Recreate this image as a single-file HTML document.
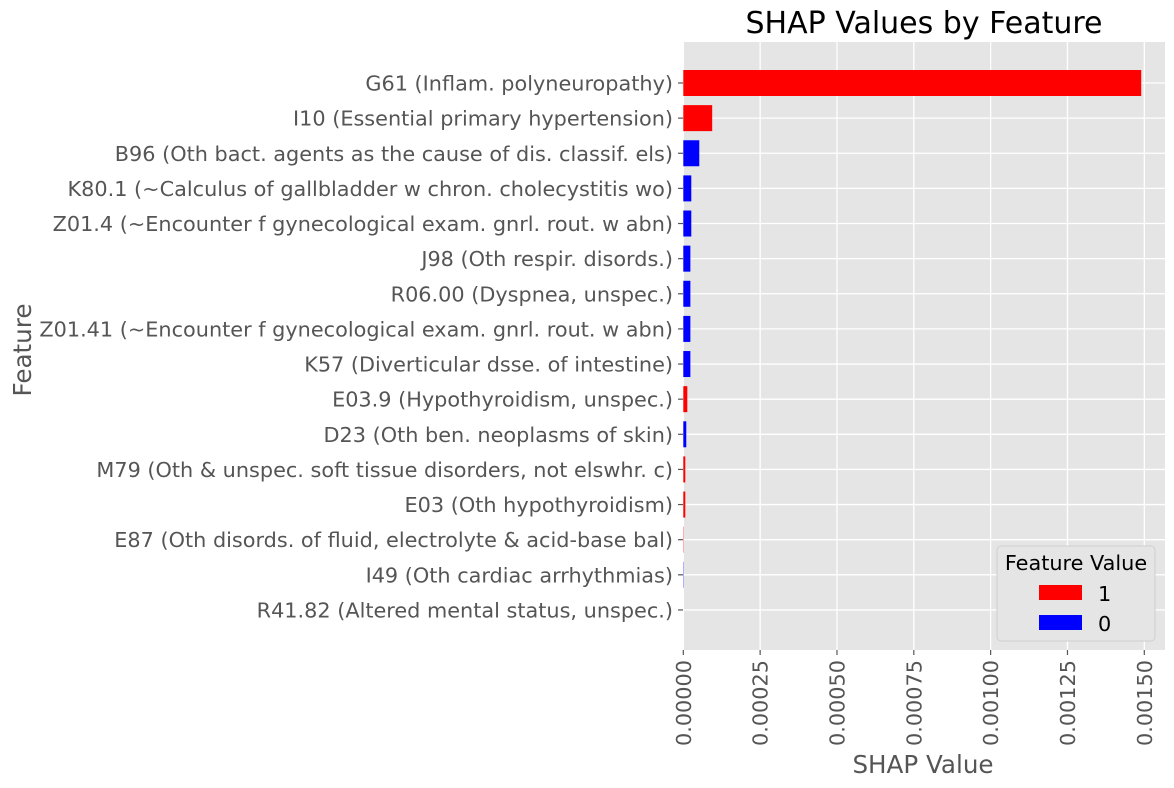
<!DOCTYPE html>
<html><head><meta charset="utf-8"><style>
body{margin:0;background:#fff;}
svg{display:block;font-family:"DejaVu Sans","Liberation Sans",sans-serif;}
</style></head><body>
<svg id="chart" width="1174" height="788">
<rect x="683" y="42" width="482" height="608" fill="#e5e5e5"/>
<g id="grid"></g><g id="bars"></g><g id="ylabels"></g><g id="xlabels"></g>
<text x="924" y="33" font-size="30" text-anchor="middle" fill="#000">SHAP Values by Feature</text>
<text x="923" y="773" font-size="24.6" text-anchor="middle" fill="#555">SHAP Value</text>
<text transform="translate(31,350) rotate(-90)" font-size="24.6" text-anchor="middle" fill="#555">Feature</text>
<g>
<rect x="997" y="546" width="158" height="95" rx="4" fill="#e5e5e5" stroke="#d0d0d0"/>
<text x="1076" y="570" font-size="20.8" text-anchor="middle" fill="#000">Feature Value</text>
<rect x="1039" y="585" width="43" height="15" fill="#ff0000"/>
<text x="1098" y="601" font-size="20.8" fill="#000">1</text>
<rect x="1039" y="615" width="43" height="15" fill="#0000ff"/>
<text x="1098" y="631" font-size="20.8" fill="#000">0</text>
</g>
</svg>
<script>
const features=["G61 (Inflam. polyneuropathy)","I10 (Essential primary hypertension)","B96 (Oth bact. agents as the cause of dis. classif. els)","K80.1 (~Calculus of gallbladder w chron. cholecystitis wo)","Z01.4 (~Encounter f gynecological exam. gnrl. rout. w abn)","J98 (Oth respir. disords.)","R06.00 (Dyspnea, unspec.)","Z01.41 (~Encounter f gynecological exam. gnrl. rout. w abn)","K57 (Diverticular dsse. of intestine)","E03.9 (Hypothyroidism, unspec.)","D23 (Oth ben. neoplasms of skin)","M79 (Oth & unspec. soft tissue disorders, not elswhr. c)","E03 (Oth hypothyroidism)","E87 (Oth disords. of fluid, electrolyte & acid-base bal)","I49 (Oth cardiac arrhythmias)","R41.82 (Altered mental status, unspec.)"];
const shapValues=[0.00149,0.000094,0.000052,0.000026,0.000026,0.000023,0.000023,0.000023,0.000023,0.000013,0.0000097,0.0000065,0.0000065,0.000001,0.000001,0.0];
const featureValues=[1,1,0,0,0,0,0,0,0,1,0,1,1,1,0,1];
const xTicks=[0,0.00025,0.0005,0.00075,0.001,0.00125,0.0015];
const xTickLabels=["0.00000","0.00025","0.00050","0.00075","0.00100","0.00125","0.00150"];
const NS="http://www.w3.org/2000/svg";
const x0=683.3,x1=1144.3,xmax=0.0015;
const xs=v=>x0+(x1-x0)*v/xmax;
const yTop=83,step=35.13;
const ys=i=>yTop+i*step;
function mk(t,a,p){const e=document.createElementNS(NS,t);for(const k in a)e.setAttribute(k,a[k]);p.appendChild(e);return e;}
const grid=document.getElementById('grid'),bars=document.getElementById('bars'),yl=document.getElementById('ylabels'),xl=document.getElementById('xlabels');
xTicks.forEach((t,i)=>{
 const l=mk('line',{x1:xs(t),x2:xs(t),y1:42,y2:650,stroke:'#fff','stroke-width':1.3},grid);
 
 
 const tk=mk('line',{x1:xs(t),x2:xs(t),y1:650,y2:655,stroke:'#555','stroke-width':1.2},xl);
 
 
 const tx=mk('text',{transform:`translate(${xs(t)+7.5},${660}) rotate(-90)`,'font-size':20.8,'text-anchor':'end',fill:'#555'},xl);
 tx.textContent=xTickLabels[i];
 
 
});
features.forEach((f,i)=>{
 const y=ys(i);
 const g=mk('line',{x1:683,x2:1165,y1:y,y2:y,stroke:'#fff','stroke-width':1.3},grid);
 
 
 const w=Math.max(0,xs(shapValues[i])-x0);
 const b=mk('rect',{x:x0,y:y-13,width:w,height:26,fill:featureValues[i]?'#ff0000':'#0000ff'},bars);
 
 
 const tk=mk('line',{x1:678,x2:683,y1:y,y2:y,stroke:'#555','stroke-width':1.2},yl);
 
 
 const t=mk('text',{x:673,y:y+7.5,'font-size':20.8,'text-anchor':'end',fill:'#555'},yl);
 t.textContent=f;
 
 
});
</script>
</body></html>
